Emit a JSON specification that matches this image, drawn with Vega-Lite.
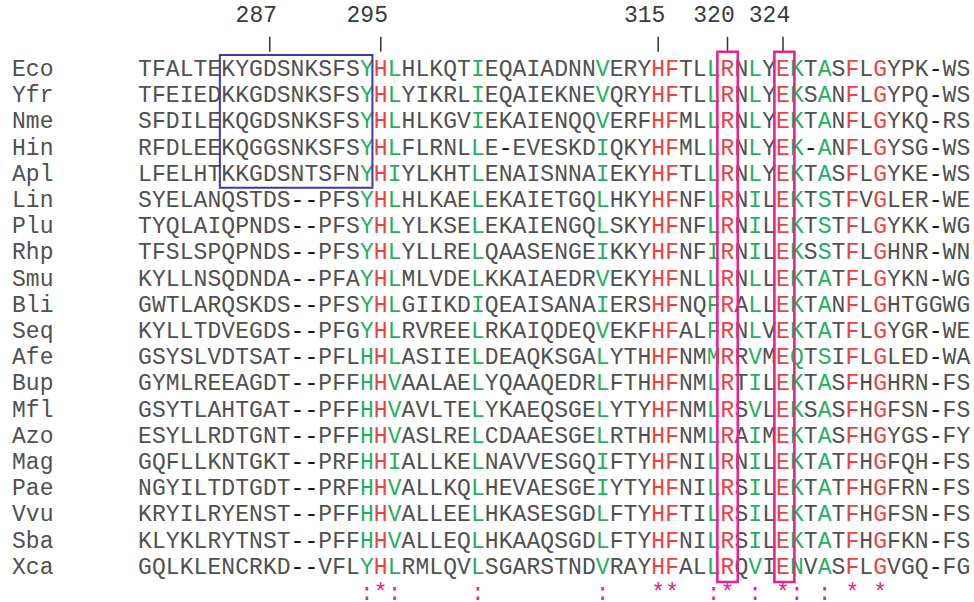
{
"$schema": "https://vega.github.io/schema/vega-lite/v6.json",
"width": 974, "height": 602, "padding": 0, "autosize": {"type": "none"},
"background": "white",
"config": {"view": {"stroke": null}},
"datasets": {
"seqs": [
{"id":"Eco","r":1,"aa":["T","F","A","L","T","E","K","Y","G","D","S","N","K","S","F","S","Y","H","L","H","L","K","Q","T","I","E","Q","A","I","A","D","N","N","V","E","R","Y","H","F","T","L","L","R","N","L","Y","E","K","T","A","S","F","L","G","Y","P","K","-","W","S"],"c":[1,2,3,4,5,6,7,8,9,10,11,12,13,14,15,16,17,18,19,20,21,22,23,24,25,26,27,28,29,30,31,32,33,34,35,36,37,38,39,40,41,42,43,44,45,46,47,48,49,50,51,52,53,54,55,56,57,58,59,60]},
{"id":"Yfr","r":2,"aa":["T","F","E","I","E","D","K","K","G","D","S","N","K","S","F","S","Y","H","L","Y","I","K","R","L","I","E","Q","A","I","E","K","N","E","V","Q","R","Y","H","F","T","L","L","R","N","L","Y","E","K","S","A","N","F","L","G","Y","P","Q","-","W","S"],"c":[1,2,3,4,5,6,7,8,9,10,11,12,13,14,15,16,17,18,19,20,21,22,23,24,25,26,27,28,29,30,31,32,33,34,35,36,37,38,39,40,41,42,43,44,45,46,47,48,49,50,51,52,53,54,55,56,57,58,59,60]},
{"id":"Nme","r":3,"aa":["S","F","D","I","L","E","K","Q","G","D","S","N","K","S","F","S","Y","H","L","H","L","K","G","V","I","E","K","A","I","E","N","Q","Q","V","E","R","F","H","F","M","L","L","R","N","L","Y","E","K","T","A","N","F","L","G","Y","K","Q","-","R","S"],"c":[1,2,3,4,5,6,7,8,9,10,11,12,13,14,15,16,17,18,19,20,21,22,23,24,25,26,27,28,29,30,31,32,33,34,35,36,37,38,39,40,41,42,43,44,45,46,47,48,49,50,51,52,53,54,55,56,57,58,59,60]},
{"id":"Hin","r":4,"aa":["R","F","D","L","E","E","K","Q","G","G","S","N","K","S","F","S","Y","H","L","F","L","R","N","L","L","E","-","E","V","E","S","K","D","I","Q","K","Y","H","F","M","L","L","R","N","L","Y","E","K","-","A","N","F","L","G","Y","S","G","-","W","S"],"c":[1,2,3,4,5,6,7,8,9,10,11,12,13,14,15,16,17,18,19,20,21,22,23,24,25,26,27,28,29,30,31,32,33,34,35,36,37,38,39,40,41,42,43,44,45,46,47,48,49,50,51,52,53,54,55,56,57,58,59,60]},
{"id":"Apl","r":5,"aa":["L","F","E","L","H","T","K","K","G","D","S","N","T","S","F","N","Y","H","I","Y","L","K","H","T","L","E","N","A","I","S","N","N","A","I","E","K","Y","H","F","T","L","L","R","N","L","Y","E","K","T","A","S","F","L","G","Y","K","E","-","W","S"],"c":[1,2,3,4,5,6,7,8,9,10,11,12,13,14,15,16,17,18,19,20,21,22,23,24,25,26,27,28,29,30,31,32,33,34,35,36,37,38,39,40,41,42,43,44,45,46,47,48,49,50,51,52,53,54,55,56,57,58,59,60]},
{"id":"Lin","r":6,"aa":["S","Y","E","L","A","N","Q","S","T","D","S","-","-","P","F","S","Y","H","L","H","L","K","A","E","L","E","K","A","I","E","T","G","Q","L","H","K","Y","H","F","N","F","L","R","N","I","L","E","K","T","S","T","F","V","G","L","E","R","-","W","E"],"c":[1,2,3,4,5,6,7,8,9,10,11,12,13,14,15,16,17,18,19,20,21,22,23,24,25,26,27,28,29,30,31,32,33,34,35,36,37,38,39,40,41,42,43,44,45,46,47,48,49,50,51,52,53,54,55,56,57,58,59,60]},
{"id":"Plu","r":7,"aa":["T","Y","Q","L","A","I","Q","P","N","D","S","-","-","P","F","S","Y","H","L","Y","L","K","S","E","L","E","K","A","I","E","N","G","Q","L","S","K","Y","H","F","N","F","L","R","N","I","L","E","K","T","S","T","F","L","G","Y","K","K","-","W","G"],"c":[1,2,3,4,5,6,7,8,9,10,11,12,13,14,15,16,17,18,19,20,21,22,23,24,25,26,27,28,29,30,31,32,33,34,35,36,37,38,39,40,41,42,43,44,45,46,47,48,49,50,51,52,53,54,55,56,57,58,59,60]},
{"id":"Rhp","r":8,"aa":["T","F","S","L","S","P","Q","P","N","D","S","-","-","P","F","S","Y","H","L","Y","L","L","R","E","L","Q","A","A","S","E","N","G","E","I","K","K","Y","H","F","N","F","I","R","N","I","L","E","K","S","S","T","F","L","G","H","N","R","-","W","N"],"c":[1,2,3,4,5,6,7,8,9,10,11,12,13,14,15,16,17,18,19,20,21,22,23,24,25,26,27,28,29,30,31,32,33,34,35,36,37,38,39,40,41,42,43,44,45,46,47,48,49,50,51,52,53,54,55,56,57,58,59,60]},
{"id":"Smu","r":9,"aa":["K","Y","L","L","N","S","Q","D","N","D","A","-","-","P","F","A","Y","H","L","M","L","V","D","E","L","K","K","A","I","A","E","D","R","V","E","K","Y","H","F","N","L","L","R","N","L","L","E","K","T","A","T","F","L","G","Y","K","N","-","W","G"],"c":[1,2,3,4,5,6,7,8,9,10,11,12,13,14,15,16,17,18,19,20,21,22,23,24,25,26,27,28,29,30,31,32,33,34,35,36,37,38,39,40,41,42,43,44,45,46,47,48,49,50,51,52,53,54,55,56,57,58,59,60]},
{"id":"Bli","r":10,"aa":["G","W","T","L","A","R","Q","S","K","D","S","-","-","P","F","S","Y","H","L","G","I","I","K","D","I","Q","E","A","I","S","A","N","A","I","E","R","S","H","F","N","Q","F","R","A","L","L","E","K","T","A","N","F","L","G","H","T","G","G","W","G"],"c":[1,2,3,4,5,6,7,8,9,10,11,12,13,14,15,16,17,18,19,20,21,22,23,24,25,26,27,28,29,30,31,32,33,34,35,36,37,38,39,40,41,42,43,44,45,46,47,48,49,50,51,52,53,54,55,56,57,58,59,60]},
{"id":"Seq","r":11,"aa":["K","Y","L","L","T","D","V","E","G","D","S","-","-","P","F","G","Y","H","L","R","V","R","E","E","L","R","K","A","I","Q","D","E","Q","V","E","K","F","H","F","A","L","F","R","N","L","V","E","K","T","A","T","F","L","G","Y","G","R","-","W","E"],"c":[1,2,3,4,5,6,7,8,9,10,11,12,13,14,15,16,17,18,19,20,21,22,23,24,25,26,27,28,29,30,31,32,33,34,35,36,37,38,39,40,41,42,43,44,45,46,47,48,49,50,51,52,53,54,55,56,57,58,59,60]},
{"id":"Afe","r":12,"aa":["G","S","Y","S","L","V","D","T","S","A","T","-","-","P","F","L","H","H","L","A","S","I","I","E","L","D","E","A","Q","K","S","G","A","L","Y","T","H","H","F","N","M","M","R","R","V","M","E","Q","T","S","I","F","L","G","L","E","D","-","W","A"],"c":[1,2,3,4,5,6,7,8,9,10,11,12,13,14,15,16,17,18,19,20,21,22,23,24,25,26,27,28,29,30,31,32,33,34,35,36,37,38,39,40,41,42,43,44,45,46,47,48,49,50,51,52,53,54,55,56,57,58,59,60]},
{"id":"Bup","r":13,"aa":["G","Y","M","L","R","E","E","A","G","D","T","-","-","P","F","F","H","H","V","A","A","L","A","E","L","Y","Q","A","A","Q","E","D","R","L","F","T","H","H","F","N","M","L","R","T","I","L","E","K","T","A","S","F","H","G","H","R","N","-","F","S"],"c":[1,2,3,4,5,6,7,8,9,10,11,12,13,14,15,16,17,18,19,20,21,22,23,24,25,26,27,28,29,30,31,32,33,34,35,36,37,38,39,40,41,42,43,44,45,46,47,48,49,50,51,52,53,54,55,56,57,58,59,60]},
{"id":"Mfl","r":14,"aa":["G","S","Y","T","L","A","H","T","G","A","T","-","-","P","F","F","H","H","V","A","V","L","T","E","L","Y","K","A","E","Q","S","G","E","L","Y","T","Y","H","F","N","M","L","R","S","V","L","E","K","S","A","S","F","H","G","F","S","N","-","F","S"],"c":[1,2,3,4,5,6,7,8,9,10,11,12,13,14,15,16,17,18,19,20,21,22,23,24,25,26,27,28,29,30,31,32,33,34,35,36,37,38,39,40,41,42,43,44,45,46,47,48,49,50,51,52,53,54,55,56,57,58,59,60]},
{"id":"Azo","r":15,"aa":["E","S","Y","L","L","R","D","T","G","N","T","-","-","P","F","F","H","H","V","A","S","L","R","E","L","C","D","A","A","E","S","G","E","L","R","T","H","H","F","N","M","L","R","A","I","M","E","K","T","A","S","F","H","G","Y","G","S","-","F","Y"],"c":[1,2,3,4,5,6,7,8,9,10,11,12,13,14,15,16,17,18,19,20,21,22,23,24,25,26,27,28,29,30,31,32,33,34,35,36,37,38,39,40,41,42,43,44,45,46,47,48,49,50,51,52,53,54,55,56,57,58,59,60]},
{"id":"Mag","r":16,"aa":["G","Q","F","L","L","K","N","T","G","K","T","-","-","P","R","F","H","H","I","A","L","L","K","E","L","N","A","V","V","E","S","G","Q","I","F","T","Y","H","F","N","I","L","R","N","I","L","E","K","T","A","T","F","H","G","F","Q","H","-","F","S"],"c":[1,2,3,4,5,6,7,8,9,10,11,12,13,14,15,16,17,18,19,20,21,22,23,24,25,26,27,28,29,30,31,32,33,34,35,36,37,38,39,40,41,42,43,44,45,46,47,48,49,50,51,52,53,54,55,56,57,58,59,60]},
{"id":"Pae","r":17,"aa":["N","G","Y","I","L","T","D","T","G","D","T","-","-","P","R","F","H","H","V","A","L","L","K","Q","L","H","E","V","A","E","S","G","E","I","Y","T","Y","H","F","N","I","L","R","S","I","L","E","K","T","A","T","F","H","G","F","R","N","-","F","S"],"c":[1,2,3,4,5,6,7,8,9,10,11,12,13,14,15,16,17,18,19,20,21,22,23,24,25,26,27,28,29,30,31,32,33,34,35,36,37,38,39,40,41,42,43,44,45,46,47,48,49,50,51,52,53,54,55,56,57,58,59,60]},
{"id":"Vvu","r":18,"aa":["K","R","Y","I","L","R","Y","E","N","S","T","-","-","P","F","F","H","H","V","A","L","L","E","E","L","H","K","A","S","E","S","G","D","L","F","T","Y","H","F","T","I","L","R","S","I","L","E","K","T","A","T","F","H","G","F","S","N","-","F","S"],"c":[1,2,3,4,5,6,7,8,9,10,11,12,13,14,15,16,17,18,19,20,21,22,23,24,25,26,27,28,29,30,31,32,33,34,35,36,37,38,39,40,41,42,43,44,45,46,47,48,49,50,51,52,53,54,55,56,57,58,59,60]},
{"id":"Sba","r":19,"aa":["K","L","Y","K","L","R","Y","T","N","S","T","-","-","P","F","F","H","H","V","A","L","L","E","Q","L","H","K","A","A","Q","S","G","D","L","F","T","Y","H","F","N","I","L","R","S","I","L","E","K","T","A","T","F","H","G","F","K","N","-","F","S"],"c":[1,2,3,4,5,6,7,8,9,10,11,12,13,14,15,16,17,18,19,20,21,22,23,24,25,26,27,28,29,30,31,32,33,34,35,36,37,38,39,40,41,42,43,44,45,46,47,48,49,50,51,52,53,54,55,56,57,58,59,60]},
{"id":"Xca","r":20,"aa":["G","Q","L","K","L","E","N","C","R","K","D","-","-","V","F","L","Y","H","L","R","M","L","Q","V","L","S","G","A","R","S","T","N","D","V","R","A","Y","H","F","A","L","L","R","Q","V","I","E","N","V","A","S","F","L","G","V","G","Q","-","F","G"],"c":[1,2,3,4,5,6,7,8,9,10,11,12,13,14,15,16,17,18,19,20,21,22,23,24,25,26,27,28,29,30,31,32,33,34,35,36,37,38,39,40,41,42,43,44,45,46,47,48,49,50,51,52,53,54,55,56,57,58,59,60]}
],
"cons": [
{"c":17,"sym":":"},{"c":18,"sym":"*"},{"c":19,"sym":":"},{"c":25,"sym":":"},{"c":34,"sym":":"},
{"c":38,"sym":"*"},{"c":39,"sym":"*"},{"c":42,"sym":":"},{"c":43,"sym":"*"},{"c":45,"sym":":"},
{"c":47,"sym":"*"},{"c":48,"sym":":"},{"c":50,"sym":":"},{"c":52,"sym":"*"},{"c":54,"sym":"*"}
],
"ticks": [
{"c":10,"label":"287"},{"c":18,"label":"295"},{"c":38,"label":"315"},{"c":43,"label":"320"},{"c":47,"label":"324"}
],
"blue": [{"c1":6.4,"c2":17.4,"r1":0.47,"r2":5.53}],
"pink": [{"c1":42.27,"c2":43.74,"r1":0.34,"r2":20.58},{"c1":46.38,"c2":47.82,"r1":0.34,"r2":20.58}]
},
"layer": [
{
"data": {"name": "seqs"},
"transform": [
{"flatten": ["aa", "c"]},
{"lookup": "c", "from": {"data": {"name": "cons"}, "key": "c", "fields": ["sym"]}, "default": "none"}
],
"mark": {"type": "text", "font": "Liberation Mono", "fontSize": 23, "baseline": "middle", "align": "center"},
"encoding": {
"x": {"field": "c", "type": "quantitative", "scale": {"domain": [-9.45, 60.77], "nice": false, "zero": false}, "axis": null},
"y": {"field": "r", "type": "quantitative", "scale": {"domain": [-1.6336, 21.3435], "nice": false, "zero": false, "reverse": true}, "axis": null},
"text": {"field": "aa"},
"color": {"condition": {"test": "datum.aa === '-'", "value": "#111111"}, "field": "sym", "type": "nominal", "scale": {"domain": ["*", ":", "none"], "range": ["#f04040", "#22b05c", "#505050"]}, "legend": null}
}
},
{
"data": {"name": "seqs"},
"mark": {"type": "text", "font": "Liberation Mono", "fontSize": 23, "baseline": "middle", "align": "left", "color": "#505050"},
"encoding": {
"x": {"datum": -8.58, "type": "quantitative", "scale": {"domain": [-9.45, 60.77], "nice": false, "zero": false}, "axis": null},
"y": {"field": "r", "type": "quantitative", "scale": {"domain": [-1.6336, 21.3435], "nice": false, "zero": false, "reverse": true}, "axis": null},
"text": {"field": "id"}
}
},
{
"data": {"name": "ticks"},
"mark": {"type": "rule", "color": "#333333", "strokeWidth": 1.5},
"encoding": {
"x": {"field": "c", "type": "quantitative", "scale": {"domain": [-9.45, 60.77], "nice": false, "zero": false}, "axis": null},
"y": {"datum": -0.23, "type": "quantitative", "scale": {"domain": [-1.6336, 21.3435], "nice": false, "zero": false, "reverse": true}, "axis": null},
"y2": {"datum": 0.34}
}
},
{
"data": {"name": "ticks"},
"mark": {"type": "text", "font": "Liberation Mono", "fontSize": 23, "baseline": "middle", "align": "center", "color": "#3a3a3a", "dx": -13.5},
"encoding": {
"x": {"field": "c", "type": "quantitative", "scale": {"domain": [-9.45, 60.77], "nice": false, "zero": false}, "axis": null},
"y": {"datum": -1.06, "type": "quantitative", "scale": {"domain": [-1.6336, 21.3435], "nice": false, "zero": false, "reverse": true}, "axis": null},
"text": {"field": "label"}
}
},
{
"data": {"name": "cons"},
"mark": {"type": "text", "font": "Liberation Mono", "fontSize": 23, "baseline": "middle", "align": "center", "color": "#e8238f"},
"encoding": {
"x": {"field": "c", "type": "quantitative", "scale": {"domain": [-9.45, 60.77], "nice": false, "zero": false}, "axis": null},
"y": {"datum": 21, "type": "quantitative", "scale": {"domain": [-1.6336, 21.3435], "nice": false, "zero": false, "reverse": true}, "axis": null},
"text": {"field": "sym"}
}
},
{
"data": {"name": "blue"},
"mark": {"type": "rect", "fill": "transparent", "stroke": "#3a3d9c", "strokeWidth": 2},
"encoding": {
"x": {"field": "c1", "type": "quantitative", "scale": {"domain": [-9.45, 60.77], "nice": false, "zero": false}, "axis": null},
"x2": {"field": "c2"},
"y": {"field": "r1", "type": "quantitative", "scale": {"domain": [-1.6336, 21.3435], "nice": false, "zero": false, "reverse": true}, "axis": null},
"y2": {"field": "r2"}
}
},
{
"data": {"name": "pink"},
"mark": {"type": "rect", "fill": "transparent", "stroke": "#e8238f", "strokeWidth": 2.6},
"encoding": {
"x": {"field": "c1", "type": "quantitative", "scale": {"domain": [-9.45, 60.77], "nice": false, "zero": false}, "axis": null},
"x2": {"field": "c2"},
"y": {"field": "r1", "type": "quantitative", "scale": {"domain": [-1.6336, 21.3435], "nice": false, "zero": false, "reverse": true}, "axis": null},
"y2": {"field": "r2"}
}
}
]
}
